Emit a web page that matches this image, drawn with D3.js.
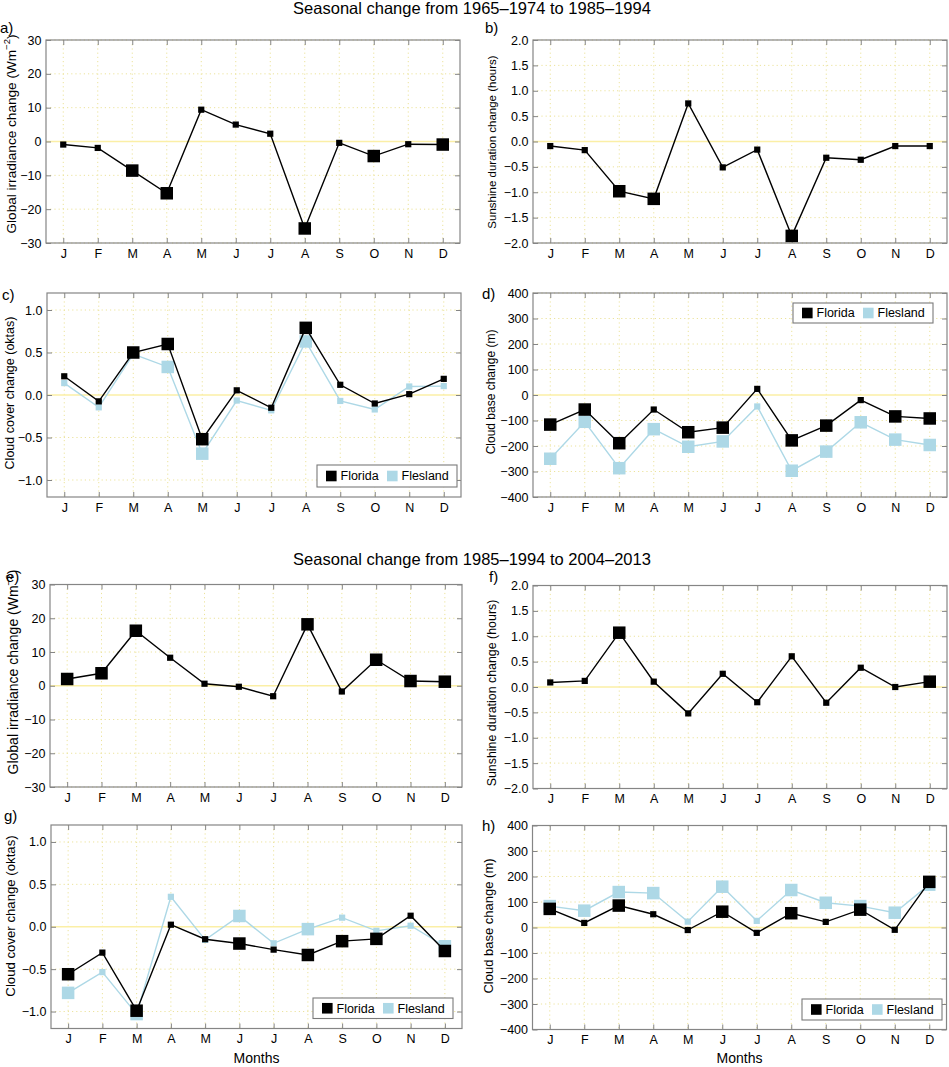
<!DOCTYPE html>
<html><head><meta charset="utf-8">
<script src="https://cdn.jsdelivr.net/npm/d3@7"></script>
<style>
body{margin:0;background:#fff}
svg{display:block}
text{font-family:"Liberation Sans",Arial,Helvetica,sans-serif;fill:#000}
</style>
</head><body>
<svg id="chart" width="949" height="1067"></svg>
<script>
// ---------- data ----------
const months = ["J","F","M","A","M","J","J","A","S","O","N","D"];
const titles = ["Seasonal change from 1965\u20131974 to 1985\u20131994",
                "Seasonal change from 1985\u20131994 to 2004\u20132013"];
const seriesNames = ["Florida","Flesland"];

const irrTicks   = [-30,-20,-10,0,10,20,30];
const sunTicks   = [-2,-1.5,-1,-0.5,0,0.5,1,1.5,2];
const cloudTicks = [-1,-0.5,0,0.5,1];
const baseTicks  = [-400,-300,-200,-100,0,100,200,300,400];

// period 1 (1965–1974 -> 1985–1994)
const irr1      = [-0.9,-1.9,-8.6,-15.3,9.4,5.0,2.3,-25.7,-0.4,-4.3,-0.8,-0.9];
const irr1Big   = [0,0,1,1,0,0,0,1,0,1,0,1];
const sun1      = [-0.09,-0.17,-0.98,-1.13,0.75,-0.51,-0.16,-1.86,-0.32,-0.36,-0.09,-0.09];
const sun1Big   = [0,0,1,1,0,0,0,1,0,0,0,0];
const cloudFlo1    = [0.22,-0.075,0.50,0.60,-0.52,0.055,-0.15,0.79,0.12,-0.10,0.01,0.19];
const cloudFlo1Big = [0,0,1,1,1,0,0,1,0,0,0,0];
const cloudFle1    = [0.14,-0.145,0.48,0.33,-0.69,-0.065,-0.18,0.63,-0.07,-0.17,0.10,0.105];
const cloudFle1Big = [0,0,0,1,1,0,0,1,0,0,0,0];
const baseFlo1     = [-116,-57,-189,-57,-146,-128,24,-178,-120,-20,-84,-92];
const baseFlo1Big  = [1,1,1,0,1,1,0,1,1,0,1,1];
const baseFle1     = [-250,-105,-287,-134,-203,-182,-45,-297,-222,-107,-175,-196];
const baseFle1Big  = [1,1,1,1,1,1,0,1,1,1,1,1];

// period 2 (1985–1994 -> 2004–2013)
const irr2      = [2.0,3.7,16.3,8.3,0.6,-0.3,-3.1,18.2,-1.7,7.7,1.4,1.2];
const irr2Big   = [1,1,1,0,0,0,0,1,0,1,1,1];
const sun2      = [0.09,0.12,1.07,0.105,-0.52,0.26,-0.30,0.605,-0.31,0.38,0.0,0.105];
const sun2Big   = [0,0,1,0,0,0,0,0,0,0,0,1];
const cloudFlo2    = [-0.56,-0.305,-0.99,0.024,-0.147,-0.198,-0.27,-0.333,-0.17,-0.143,0.13,-0.286];
const cloudFlo2Big = [1,0,1,0,0,1,0,1,1,1,0,1];
const cloudFle2    = [-0.78,-0.535,-1.03,0.353,-0.155,0.127,-0.195,-0.028,0.107,-0.048,0.012,-0.23];
const cloudFle2Big = [1,0,1,0,0,1,0,1,0,0,0,1];
const baseFlo2     = [73,18,86,52,-10,62,-21,56,22,70,-9,179];
const baseFlo2Big  = [1,0,1,0,0,1,0,1,0,1,0,1];
const baseFle2     = [84,66,139,135,23,160,26,147,97,84,58,168];
const baseFle2Big  = [1,1,1,1,0,1,0,1,1,1,1,1];

// ---------- styling / layout ----------
const COL_FLO = "#000000", COL_FLE = "#add8e6";
const BOX = "#858585", GRID = "#ece39c", ZERO = "#fbefa6";
const FONT_TICK = 12.5;

const irrLabel = ["Global irradiance change (Wm", "\u22122", ")"];
const sunLabel = ["Sunshine duration change (hours)"];
const cloudLabel = ["Cloud cover change (oktas)"];
const baseLabel = ["Cloud base change (m)"];

const panels = [
 {letter:"a)", lx:0, ly:33, left:46, top:40, w:414, h:203, dom:[-30,30], ticks:irrTicks, fmt:"d",
  label:irrLabel, labX:16, labY:134, labFs:13.6,
  series:[{v:irr1,big:irr1Big,c:COL_FLO}]},
 {letter:"b)", lx:485, ly:33, left:533, top:40, w:414, h:203, dom:[-2,2], ticks:sunTicks, fmt:".1f",
  label:sunLabel, labX:496, labY:142, labFs:11.5,
  series:[{v:sun1,big:sun1Big,c:COL_FLO}]},
 {letter:"c)", lx:2, ly:300, left:47, top:293, w:414, h:204, dom:[-1.2,1.2], ticks:cloudTicks, fmt:".1f",
  label:cloudLabel, labX:14, labY:393, labFs:12.5,
  series:[{v:cloudFle1,big:cloudFle1Big,c:COL_FLE},{v:cloudFlo1,big:cloudFlo1Big,c:COL_FLO}],
  legend:{x:317, y:465, h:22}},
 {letter:"d)", lx:482, ly:299, left:533, top:293, w:414, h:204, dom:[-400,400], ticks:baseTicks, fmt:"d",
  label:baseLabel, labX:495, labY:392, labFs:12,
  series:[{v:baseFle1,big:baseFle1Big,c:COL_FLE},{v:baseFlo1,big:baseFlo1Big,c:COL_FLO}],
  legend:{x:793, y:303, h:20}},
 {letter:"e)", lx:6, ly:582, left:50, top:584.5, w:412, h:202.5, dom:[-30,30], ticks:irrTicks, fmt:"d",
  label:irrLabel, labX:18, labY:672, labFs:14,
  series:[{v:irr2,big:irr2Big,c:COL_FLO}]},
 {letter:"f)", lx:489, ly:582, left:533, top:585.5, w:414, h:203, dom:[-2,2], ticks:sunTicks, fmt:".1f",
  label:sunLabel, labX:496, labY:693, labFs:12.4,
  series:[{v:sun2,big:sun2Big,c:COL_FLO}]},
 {letter:"g)", lx:4, ly:821, left:51, top:825, w:411, h:203.5, dom:[-1.2,1.2], ticks:cloudTicks, fmt:".1f",
  label:cloudLabel, labX:15, labY:916, labFs:13.2,
  series:[{v:cloudFle2,big:cloudFle2Big,c:COL_FLE},{v:cloudFlo2,big:cloudFlo2Big,c:COL_FLO}],
  legend:{x:313, y:998, h:20.5}, xlabel:true},
 {letter:"h)", lx:482, ly:831, left:532.5, top:825.5, w:414, h:204, dom:[-400,400], ticks:baseTicks, fmt:"d",
  label:baseLabel, labX:493, labY:926, labFs:13,
  series:[{v:baseFle2,big:baseFle2Big,c:COL_FLE},{v:baseFlo2,big:baseFlo2Big,c:COL_FLO}],
  legend:{x:802, y:999, h:21}, xlabel:true}
];

const svg = d3.select("#chart");

// titles
svg.append("text").attr("x",472).attr("y",13.5).attr("text-anchor","middle")
   .attr("font-size",16.5).text(titles[0]);
svg.append("text").attr("x",472).attr("y",565).attr("text-anchor","middle")
   .attr("font-size",16.5).text(titles[1]);

const idx = d3.range(1,13);

panels.forEach(p => {
  const x = d3.scaleLinear().domain([0.5,12.5]).range([p.left, p.left+p.w]);
  const y = d3.scaleLinear().domain(p.dom).range([p.top+p.h, p.top]);
  const g = svg.append("g");

  // grid
  g.append("g").selectAll("line").data(idx).join("line")
    .attr("x1",d=>x(d)).attr("x2",d=>x(d)).attr("y1",p.top).attr("y2",p.top+p.h)
    .attr("stroke",GRID).attr("stroke-width",1).attr("stroke-dasharray","1.2 3");
  g.append("g").selectAll("line").data(p.ticks.filter(t=>t!==0)).join("line")
    .attr("y1",d=>y(d)).attr("y2",d=>y(d)).attr("x1",p.left).attr("x2",p.left+p.w)
    .attr("stroke",GRID).attr("stroke-width",1).attr("stroke-dasharray","1.2 3");
  // zero line
  g.append("line").attr("x1",p.left).attr("x2",p.left+p.w).attr("y1",y(0)).attr("y2",y(0))
    .attr("stroke",ZERO).attr("stroke-width",1.6);

  // axes (inward ticks on all sides)
  const fmt = d3.format(p.fmt);
  const ax = [
    g.append("g").attr("transform",`translate(0,${p.top+p.h})`)
      .call(d3.axisBottom(x).tickValues(idx).tickSize(-5).tickPadding(6).tickFormat((d,i)=>months[i])),
    g.append("g").attr("transform",`translate(0,${p.top})`)
      .call(d3.axisTop(x).tickValues(idx).tickSize(-5).tickFormat("")),
    g.append("g").attr("transform",`translate(${p.left},0)`)
      .call(d3.axisLeft(y).tickValues(p.ticks).tickSize(-5).tickPadding(4.5).tickFormat(fmt)),
    g.append("g").attr("transform",`translate(${p.left+p.w},0)`)
      .call(d3.axisRight(y).tickValues(p.ticks).tickSize(-5).tickFormat(""))
  ];
  ax.forEach(a => {
    a.select(".domain").remove();
    a.selectAll(".tick line").attr("stroke",BOX);
    a.selectAll(".tick text").attr("font-size",FONT_TICK)
      .attr("font-family",'"Liberation Sans",Arial,sans-serif').attr("fill","#000");
  });

  // box
  g.append("rect").attr("x",p.left).attr("y",p.top).attr("width",p.w).attr("height",p.h)
    .attr("fill","none").attr("stroke",BOX).attr("stroke-width",1.2);

  // series
  const line = d3.line().x((d,i)=>x(i+1)).y(d=>y(d));
  p.series.forEach(s => {
    g.append("path").datum(s.v).attr("d",line).attr("fill","none")
      .attr("stroke",s.c).attr("stroke-width",1.4);
    g.append("g").selectAll("rect").data(s.v).join("rect")
      .each(function(d,i){
        const sz = s.big[i] ? 12.5 : 6.2;
        d3.select(this).attr("x",x(i+1)-sz/2).attr("y",y(d)-sz/2)
          .attr("width",sz).attr("height",sz);
      })
      .attr("fill",s.c);
  });

  // legend
  if (p.legend) {
    const L = p.legend;
    const lg = svg.append("g").attr("transform",`translate(${L.x},${L.y})`);
    lg.append("rect").attr("width",140).attr("height",L.h).attr("fill","#fff")
      .attr("stroke","#7a7a7a").attr("stroke-width",1.1);
    const items = [{n:seriesNames[0],c:COL_FLO,ox:9},{n:seriesNames[1],c:COL_FLE,ox:70}];
    items.forEach(it => {
      lg.append("rect").attr("x",it.ox).attr("y",L.h/2-5.3).attr("width",10.6).attr("height",10.6)
        .attr("fill",it.c);
      lg.append("text").attr("x",it.ox+14.5).attr("y",L.h/2+4.4).attr("font-size",12.5).text(it.n);
    });
  }

  // panel letter
  svg.append("text").attr("x",p.lx).attr("y",p.ly).attr("font-size",15).text(p.letter);

  // y label
  const yl = svg.append("text").attr("transform",`translate(${p.labX},${p.labY}) rotate(-90)`)
    .attr("text-anchor","middle").attr("font-size",p.labFs);
  yl.append("tspan").text(p.label[0]);
  if (p.label.length>1) {
    yl.append("tspan").attr("font-size",p.labFs*0.7).attr("dy",-p.labFs*0.42).text(p.label[1]);
    yl.append("tspan").attr("dy",p.labFs*0.42).text(p.label[2]);
  }

  if (p.xlabel) {
    svg.append("text").attr("x",p.left+p.w/2).attr("y",1063).attr("text-anchor","middle")
      .attr("font-size",14).text("Months");
  }
});
</script>
</body></html>
